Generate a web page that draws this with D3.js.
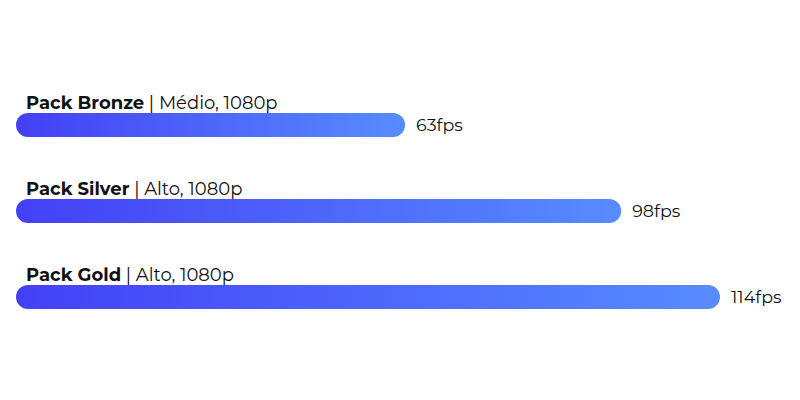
<!DOCTYPE html>
<html>
<head>
<meta charset="utf-8">
<script src="https://cdn.jsdelivr.net/npm/d3@7"></script>
<style>
  body { margin: 0; background: #fff; }
  svg text { font-family: Montserrat, "Open Sans", sans-serif; }
</style>
</head>
<body>
<div id="chart"></div>
<script>
// packs and their measured frame rates
const packs = ['Pack Bronze', 'Pack Silver', 'Pack Gold'];
const presets = ['Médio, 1080p', 'Alto, 1080p', 'Alto, 1080p'];
const fps = [63, 98, 114];

function drawBars(container, d3 = window.d3) {
    const w = 800;
    const h = 400;
    const barH = 24;

    const data = packs.map((p, i) => ({ pack: p, preset: presets[i], value: fps[i] }));

    const x = d3.scaleLinear()
        .domain([0, 114])
        .range([0, 704]);

    // one row every 86px, bar sits at the top of its band
    const y = d3.scaleBand()
        .domain(packs)
        .range([113, 113 + 86 * packs.length]);

    const svg = d3.select(container)
        .append('svg')
        .attr('width', w)
        .attr('height', h);

    const grad = svg.append('defs')
        .append('linearGradient')
        .attr('id', 'barGrad')
        .attr('x1', '0%').attr('x2', '100%');
    grad.append('stop').attr('offset', '0%').attr('stop-color', '#4340f6');
    grad.append('stop').attr('offset', '100%').attr('stop-color', '#578cff');

    const rows = svg.selectAll('g.row')
        .data(data)
        .enter()
        .append('g')
        .attr('class', 'row')
        .attr('transform', d => `translate(16,${y(d.pack)})`);

    rows.append('rect')
        .attr('width', d => x(d.value))
        .attr('height', barH)
        .attr('rx', barH / 2)
        .attr('fill', 'url(#barGrad)');

    const label = rows.append('text')
        .attr('x', 10)
        .attr('y', -4)
        .attr('font-size', 18)
        .attr('fill', '#111');
    label.append('tspan')
        .attr('font-weight', 700)
        .text(d => d.pack);
    label.append('tspan')
        .text(d => ` | ${d.preset}`);

    rows.append('text')
        .attr('x', d => x(d.value) + 11)
        .attr('y', barH / 2)
        .attr('dy', '0.35em')
        .attr('font-size', 17.5)
        .attr('fill', '#111')
        .text(d => `${d.value}fps`);
}

drawBars('#chart');
</script>
</body>
</html>
